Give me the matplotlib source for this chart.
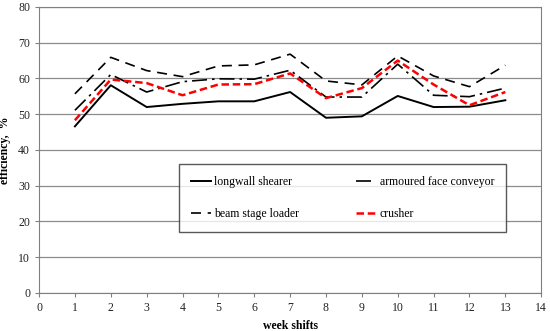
import matplotlib
matplotlib.use("Agg")
import matplotlib.pyplot as plt

plt.rcParams['font.family'] = ['Liberation Serif', 'DejaVu Serif']

shifts = list(range(1, 14))
shearer = [46.6, 58.1, 52.0, 52.9, 53.6, 53.6, 56.2, 49.0, 49.4, 55.1, 52.0, 52.1, 53.9]
conveyor = [51.1, 61.1, 56.2, 59.1, 59.9, 59.8, 62.3, 54.8, 54.8, 64.0, 55.3, 54.9, 57.3]
loader = [55.7, 65.9, 62.2, 60.5, 63.5, 63.8, 66.8, 59.3, 58.2, 66.3, 60.7, 57.7, 63.7]
crusher = [48.3, 59.7, 58.7, 55.3, 58.3, 58.4, 61.4, 54.5, 57.3, 65.0, 58.3, 52.5, 56.2]

fig = plt.figure(figsize=(5.5, 3.31), dpi=100)
ax = fig.add_axes([0.071, 0.115, 0.913, 0.864])

l1, = ax.plot(shifts, shearer, color='black', lw=1.4, label='longwall shearer')
l2, = ax.plot(shifts, conveyor, color='black', lw=1.2, dashes=(9, 3, 1.5, 3), label='armoured face conveyor')
l3, = ax.plot(shifts, loader, color='black', lw=1.2, dashes=(6, 4), label='beam stage loader')
l4, = ax.plot(shifts, crusher, color='red', lw=1.8, dashes=(3, 1.5), label='crusher')

ax.set_xlim(0, 14)
ax.set_ylim(0, 80)
ax.set_xticks(range(0, 15))
ax.set_yticks(range(0, 81, 10))
ax.grid(axis='y', color='#8c8c8c', lw=0.9)
ax.set_axisbelow(True)
for s in ax.spines.values():
    s.set_color('#808080')
ax.tick_params(labelsize=8.5, color='#808080', length=3, labelcolor='#222222')

ax.set_xlabel('week shifts', fontsize=8.5, fontweight='bold', labelpad=4)
ax.set_ylabel('efficiency,  %', fontsize=8.5, fontweight='bold', labelpad=5)

# matplotlib fills legend columns first, so order as shearer, loader | conveyor, crusher
leg = ax.legend([l1, l3, l2, l4], [l1.get_label(), l3.get_label(), l2.get_label(), l4.get_label()],
                ncol=2, loc='upper left', bbox_to_anchor=(179/550, 1-164/331),
                bbox_transform=fig.transFigure, fontsize=8.5, frameon=True,
                fancybox=False, edgecolor='#303030', handlelength=1.7, handletextpad=0.3,
                labelspacing=1.7, borderpad=1.0, borderaxespad=0, columnspacing=4.8)
leg.get_frame().set_linewidth(1.0)

fig.savefig('out.png', dpi=100)
